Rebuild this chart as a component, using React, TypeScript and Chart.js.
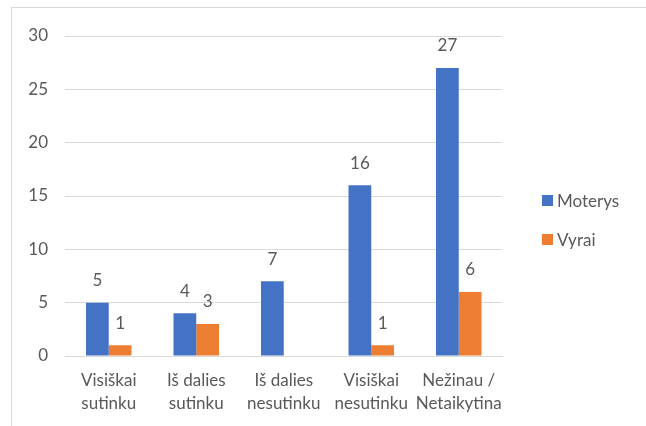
import React, { useEffect, useRef } from "react";
import { Chart, registerables } from "chart.js";

Chart.register(...registerables);

const categories: string[][] = [
  ["Visiškai", "sutinku"],
  ["Iš dalies", "sutinku"],
  ["Iš dalies", "nesutinku"],
  ["Visiškai", "nesutinku"],
  ["Nežinau /", "Netaikytina"],
];
const seriesNames = ["Moterys", "Vyrai"];
const moterys: (number | null)[] = [5, 4, 7, 16, 27];
const vyrai: (number | null)[] = [1, 3, null, 1, 6];
const seriesColors = ["#4472C4", "#ED7D31"];
const yTicks = [0, 5, 10, 15, 20, 25, 30];

const FONT = "Lato, Carlito, Calibri, 'Open Sans', sans-serif";
const TEXT = "#595959";
const FS = 17;

const labelPlugin = {
  id: "barLabels",
  afterDatasetsDraw(chart: any) {
    const ctx = chart.ctx;
    ctx.save();
    ctx.font = `${FS}px ${FONT}`;
    ctx.fillStyle = TEXT;
    ctx.textAlign = "center";
    ctx.textBaseline = "middle";
    chart.data.datasets.forEach((ds: any, i: number) => {
      const meta = chart.getDatasetMeta(i);
      meta.data.forEach((el: any, j: number) => {
        const v = ds.data[j];
        if (v === null || v === undefined) return;
        ctx.fillText(String(v), el.x, el.y - 22);
      });
    });
    ctx.restore();
  },
};

export default function App() {
  const ref = useRef<HTMLCanvasElement | null>(null);
  useEffect(() => {
    if (!ref.current) return;
    const chart = new Chart(ref.current, {
      type: "bar",
      data: {
        labels: categories,
        datasets: [
          { label: seriesNames[0], data: moterys, backgroundColor: seriesColors[0] },
          { label: seriesNames[1], data: vyrai, backgroundColor: seriesColors[1] },
        ],
      },
      options: {
        animation: false,
        responsive: false,
        maintainAspectRatio: false,
        layout: { padding: { top: 36, right: 143.5, bottom: 0, left: 0 } },
        datasets: { bar: { categoryPercentage: 0.52, barPercentage: 1.0 } },
        plugins: { legend: { display: false }, tooltip: { enabled: false } },
        scales: {
          x: {
            grid: { display: false, drawTicks: false },
            border: { display: true, color: "#D9D9D9", width: 1 },
            ticks: {
              color: TEXT,
              font: { family: FONT, size: FS, lineHeight: 1.35 },
              padding: 13,
              maxRotation: 0,
              autoSkip: false,
            },
            afterFit: (s: any) => {
              s.height = 70;
            },
          },
          y: {
            min: 0,
            max: 30,
            afterBuildTicks: (s: any) => {
              s.ticks = yTicks.map((v) => ({ value: v }));
            },
            grid: { color: "#D9D9D9", lineWidth: 1, drawTicks: false },
            border: { display: false },
            ticks: {
              color: TEXT,
              font: { family: FONT, size: FS },
              padding: 17,
            },
            afterFit: (s: any) => {
              s.width = 65;
            },
          },
        },
      },
      plugins: [labelPlugin],
    });
    return () => chart.destroy();
  }, []);

  return (
    <div
      style={{
        position: "fixed",
        left: 0,
        top: 0,
        width: 646,
        height: 426,
        overflow: "hidden",
        background: "#fff",
      }}
    >
      <div
        style={{
          position: "absolute",
          left: 11,
          top: 7,
          width: 700,
          height: 500,
          border: "1px solid #D9D9D9",
          boxSizing: "border-box",
        }}
      />
      <canvas
        ref={ref}
        width={646}
        height={426}
        style={{ position: "absolute", left: 0, top: 0, width: 646, height: 426 }}
      />
      {seriesNames.map((name, i) => (
        <div
          key={name}
          style={{
            position: "absolute",
            left: 542,
            top: 190 + i * 39,
            height: 21,
            display: "flex",
            alignItems: "center",
            fontFamily: FONT,
            fontSize: FS,
            color: TEXT,
            whiteSpace: "nowrap",
          }}
        >
          <span
            style={{
              display: "inline-block",
              width: 11,
              height: 11,
              background: seriesColors[i],
              marginRight: 4,
            }}
          />
          <span>{name}</span>
        </div>
      ))}
    </div>
  );
}
